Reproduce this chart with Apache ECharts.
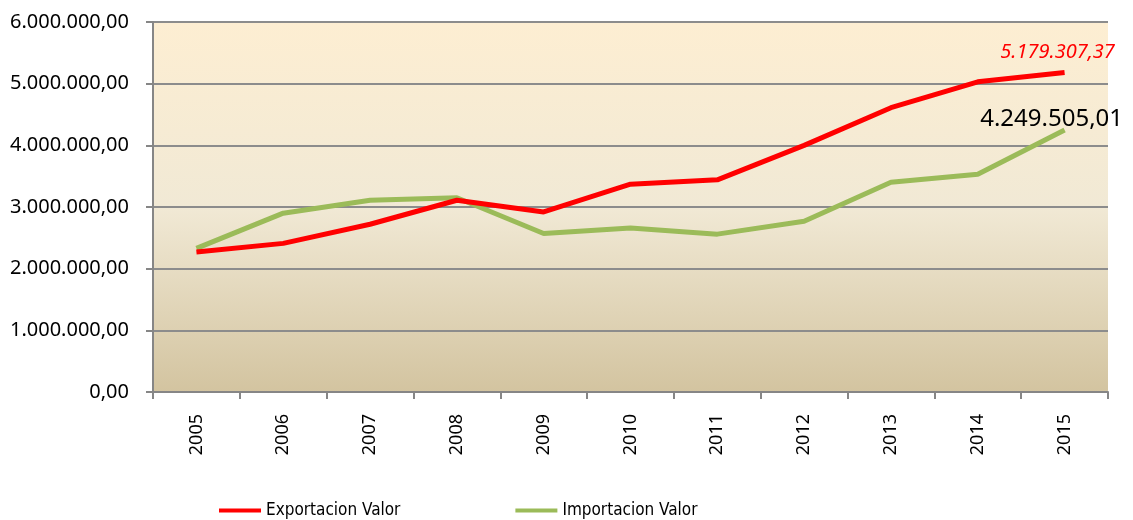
<!DOCTYPE html>
<html>
<head>
<meta charset="utf-8">
<script src="https://cdn.jsdelivr.net/npm/echarts@6/dist/echarts.min.js"></script>
<style>
  html, body { margin: 0; padding: 0; background: #fff; }
  #chart { width: 1133px; height: 520px; }
</style>
</head>
<body>
<div id="chart"></div>
<script>
var years = ['2005', '2006', '2007', '2008', '2009', '2010', '2011', '2012', '2013', '2014', '2015'];
var exportValues = [2270000, 2410000, 2720000, 3110000, 2920000, 3370000, 3440000, 4000000, 4610000, 5030000, 5179307.37];
var importValues = [2330000, 2900000, 3110000, 3150000, 2570000, 2660000, 2560000, 2770000, 3400000, 3530000, 4249505.01];

// numeros con punto de miles y coma decimal
function fmt(v) {
    var parts = v.toFixed(2).split('.');
    return parts[0].replace(/\B(?=(\d{3})+(?!\d))/g, '.') + ',' + parts[1];
}

var last = years.length - 1;
var font = '"Noto Sans", sans-serif';
var narrow = '"Liberation Sans Narrow", "DejaVu Sans Condensed", sans-serif';

var myChart = echarts.init(document.getElementById('chart'));
var option = {
    backgroundColor: '#FFFFFF',
    animation: false,
    grid: {
        left: 153, right: 25, top: 22, bottom: 128,
        show: true,
        borderWidth: 0,
        backgroundColor: new echarts.graphic.LinearGradient(0, 0, 0, 1, [
            {offset: 0, color: '#FDEED2'},
            {offset: 0.5, color: '#F1E9D5'},
            {offset: 1, color: '#D3C4A0'}
        ])
    },
    legend: {
        left: 214,
        top: 497,
        itemWidth: 42,
        itemHeight: 4,
        itemGap: 115,
        icon: 'rect',
        textStyle: {fontFamily: narrow, fontSize: 17, color: '#000'},
        data: ['Exportacion Valor', 'Importacion Valor']
    },
    xAxis: {
        type: 'category',
        data: years,
        boundaryGap: true,
        axisLine: {lineStyle: {color: '#868686', width: 2}},
        axisTick: {show: true, length: 7, lineStyle: {color: '#868686', width: 2}},
        axisLabel: {
            rotate: 90,
            margin: 22,
            fontFamily: font,
            fontSize: 18,
            color: '#000'
        }
    },
    yAxis: {
        type: 'value',
        min: 0,
        max: 6000000,
        interval: 1000000,
        axisLine: {show: true, lineStyle: {color: '#868686', width: 2}},
        axisTick: {show: true, length: 7, lineStyle: {color: '#868686', width: 2}},
        splitLine: {lineStyle: {color: '#8C8C8C', width: 2}},
        axisLabel: {
            margin: 24,
            fontFamily: font,
            fontSize: 20,
            color: '#000',
            formatter: fmt
        }
    },
    series: [{
        name: 'Exportacion Valor',
        type: 'line',
        symbol: 'circle',
        symbolSize: 0,
        showAllSymbol: true,
        lineStyle: {color: '#FF0000', width: 5},
        itemStyle: {color: '#FF0000'},
        data: exportValues.map(function (v, i) {
            if (i !== last) return v;
            return {
                value: v,
                label: {
                    show: true,
                    position: 'top',
                    offset: [-7, -5],
                    formatter: function (p) { return fmt(p.value); },
                    fontFamily: font,
                    fontSize: 20,
                    fontStyle: 'italic',
                    color: '#FF0000'
                }
            };
        }),
        z: 3
    }, {
        name: 'Importacion Valor',
        type: 'line',
        symbol: 'circle',
        symbolSize: 0,
        showAllSymbol: true,
        lineStyle: {color: '#9BBB59', width: 5},
        itemStyle: {color: '#9BBB59'},
        data: importValues.map(function (v, i) {
            if (i !== last) return v;
            return {
                value: v,
                label: {
                    show: true,
                    position: 'top',
                    offset: [-13, 6],
                    formatter: function (p) { return fmt(p.value); },
                    fontFamily: font,
                    fontSize: 24,
                    color: '#000'
                }
            };
        }),
        z: 2
    }]
};
myChart.setOption(option);
</script>
</body>
</html>
